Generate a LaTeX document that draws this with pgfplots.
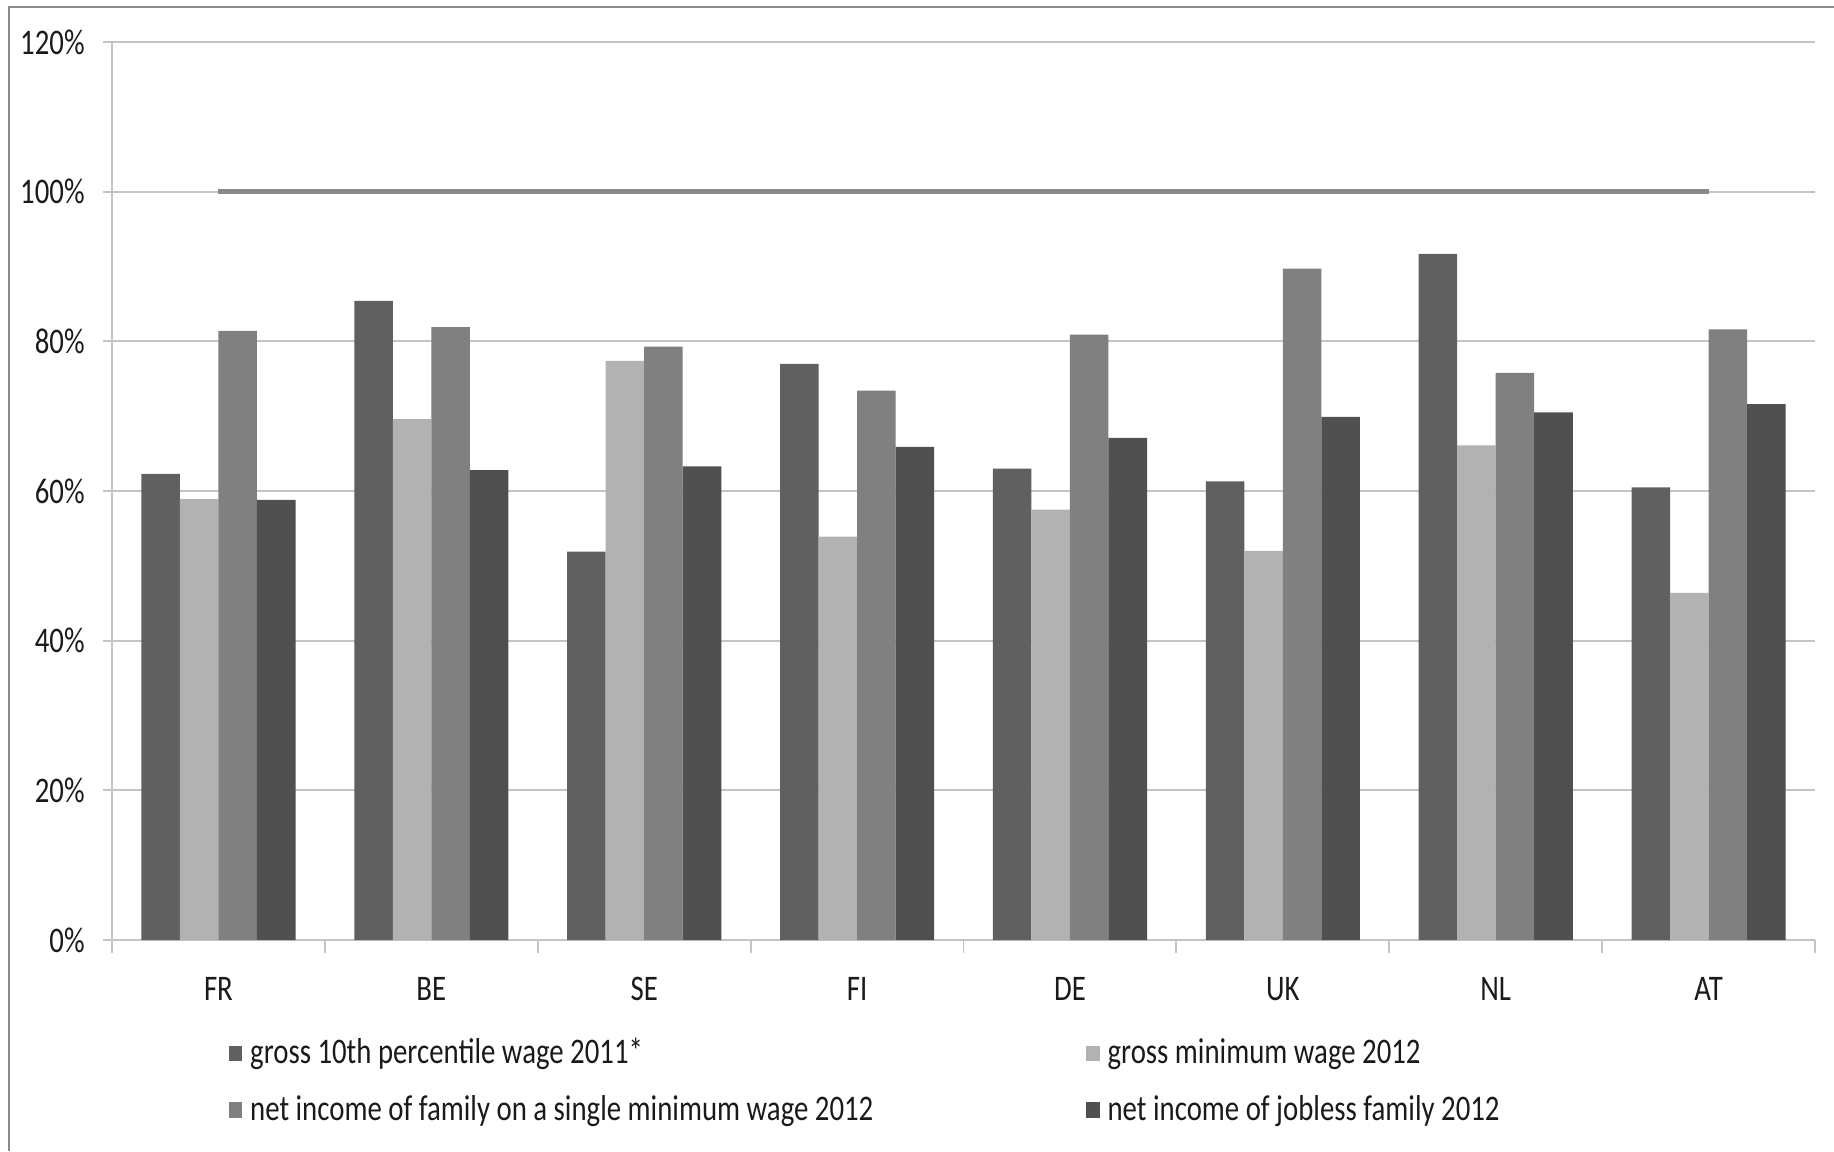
\documentclass[border=0pt]{standalone}
\usepackage{fontspec}
\setmainfont{Carlito}[FakeStretch=0.8]
\usepackage{pgfplots}
\pgfplotsset{compat=1.18}
\definecolor{sA}{HTML}{606060}
\definecolor{sB}{HTML}{B2B2B2}
\definecolor{sC}{HTML}{808080}
\definecolor{sD}{HTML}{505050}
\definecolor{gridc}{HTML}{C4C4C4}
\definecolor{framec}{HTML}{8C8C8C}
\definecolor{linec}{HTML}{8A8A8A}
\definecolor{txt}{HTML}{1A1A1A}
\begin{document}
\fontsize{18pt}{21pt}\selectfont
\begin{tikzpicture}
\useasboundingbox (0,0) rectangle (917pt,575.5pt);
\draw[color=framec, line width=0.9pt] (4.5pt,0) -- (4.5pt,572pt) -- (917pt,572pt);
\begin{axis}[
  at={(56pt,105.5pt)}, anchor=south west,
  width=851.5pt, height=449pt, scale only axis,
  xmin=-0.5, xmax=7.5, ymin=0, ymax=120,
  axis lines=left,
  axis line style={-, draw=gridc, line width=0.9pt},
  ytick={0,20,40,60,80,100,120},
  yticklabels={0\%,20\%,40\%,60\%,80\%,100\%,120\%},
  xtick={0,1,2,3,4,5,6,7},
  xticklabels={FR,BE,SE,FI,DE,UK,NL,AT},
  minor xtick={-0.5,0.5,1.5,2.5,3.5,4.5,5.5,6.5,7.5},
  tick align=outside,
  major tick length=4.5pt,
  minor tick length=6.5pt,
  x tick style={draw=none},
  minor x tick style={draw=gridc, line width=0.9pt},
  y tick style={draw=gridc, line width=0.9pt},
  ymajorgrids=true,
  grid style={draw=gridc, line width=0.9pt},
  tick label style={text=txt, font=\fontsize{18pt}{21pt}\selectfont},
  yticklabel style={anchor=east, inner sep=0pt, xshift=-9pt},
  xticklabel style={anchor=base, inner sep=0pt, yshift=-25.5pt},
  legend columns=2,
  legend cell align=left,
  legend style={draw=none, fill=none, inner sep=0pt, outer sep=0pt,
    at={(0.0687,-0.158)}, anchor=west,
    font=\fontsize{18pt}{21pt}\selectfont, text=txt,
    nodes={inner sep=1pt},
    row sep=11pt,
    /tikz/every odd column/.append style={column sep=3pt},
    /tikz/every even column/.append style={column sep=105.5pt}},
  legend image code/.code={\fill[#1] (0pt,-3.6pt) rectangle (6.6pt,4pt);},
]
\addplot[forget plot, draw=linec, line width=2.3pt, sharp plot] coordinates {(0,100) (7,100)};
\addplot[ybar, bar width=0.181, bar shift=-0.2715, fill=sA, draw=none]
  coordinates {(0,62.3) (1,85.4) (2,51.9) (3,77.0) (4,63.0) (5,61.3) (6,91.7) (7,60.5)};
\addlegendentry{gross 10th percentile wage 2011*}
\addplot[ybar, bar width=0.181, bar shift=-0.0905, fill=sB, draw=none]
  coordinates {(0,58.9) (1,69.6) (2,77.4) (3,53.9) (4,57.5) (5,52.0) (6,66.1) (7,46.4)};
\addlegendentry{gross minimum wage 2012}
\addplot[ybar, bar width=0.181, bar shift=0.0905, fill=sC, draw=none]
  coordinates {(0,81.4) (1,81.9) (2,79.3) (3,73.4) (4,80.9) (5,89.7) (6,75.8) (7,81.6)};
\addlegendentry{net income of family on a single minimum wage 2012}
\addplot[ybar, bar width=0.181, bar shift=0.2715, fill=sD, draw=none]
  coordinates {(0,58.8) (1,62.8) (2,63.3) (3,65.9) (4,67.1) (5,69.9) (6,70.5) (7,71.6)};
\addlegendentry{net income of jobless family 2012}
\end{axis}
\end{tikzpicture}
\end{document}
